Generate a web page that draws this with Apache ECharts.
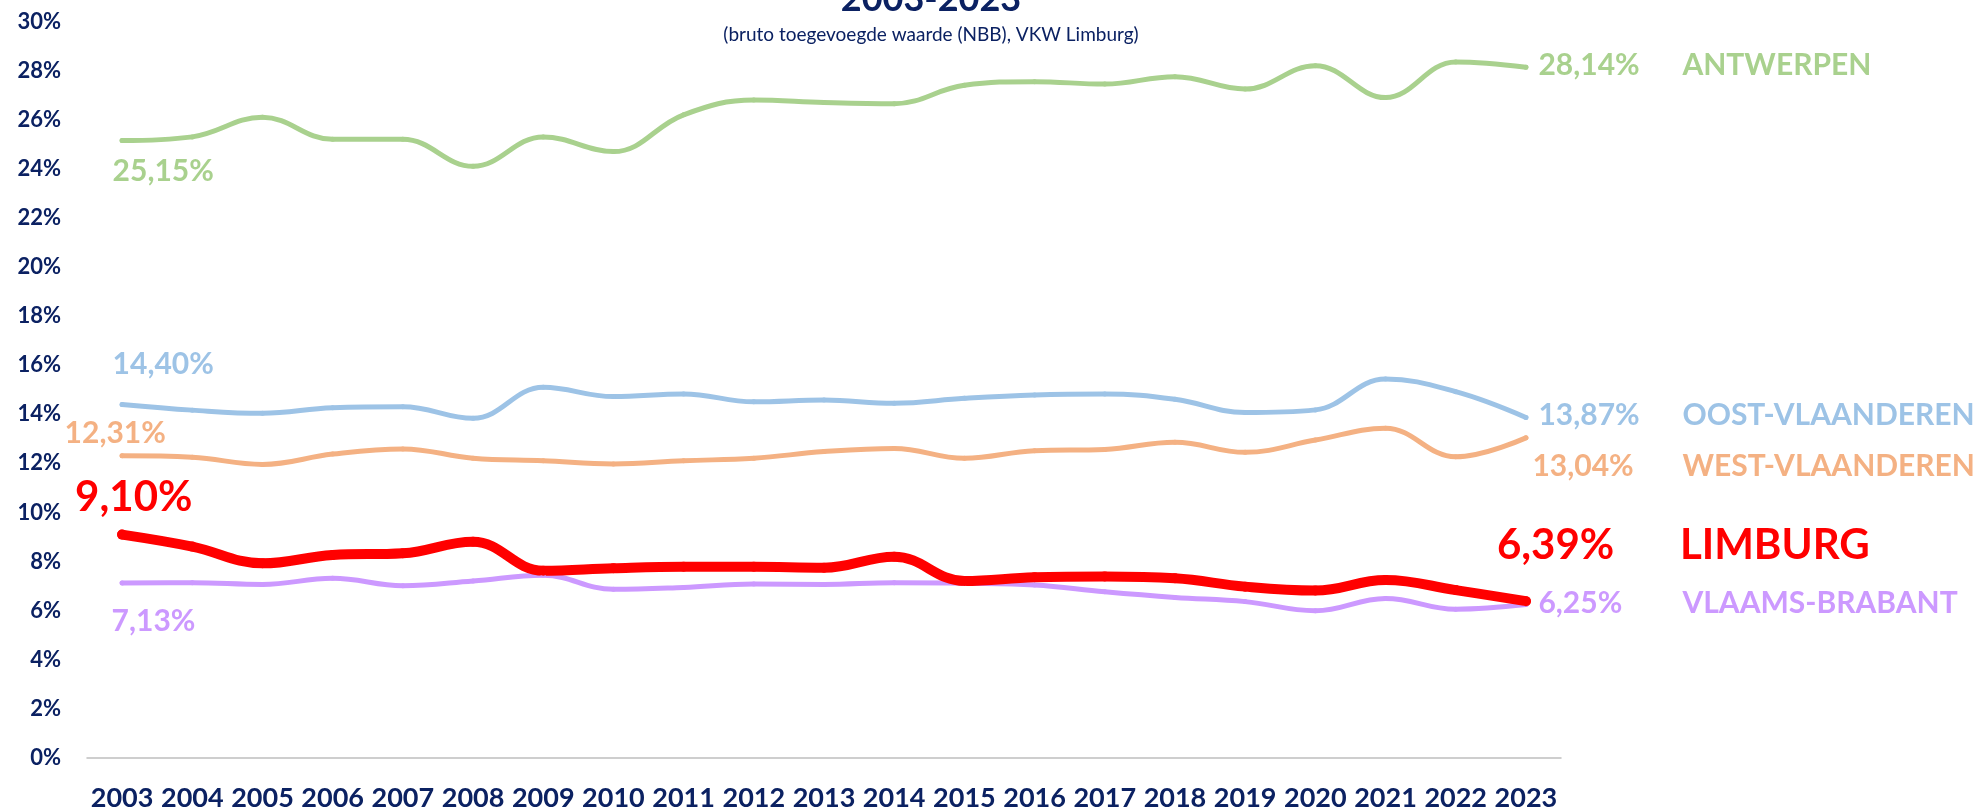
<!DOCTYPE html>
<html>
<head>
<meta charset="utf-8">
<script src="https://cdn.jsdelivr.net/npm/echarts@6/dist/echarts.min.js"></script>
<style>
  html, body { margin: 0; padding: 0; background: #fff; }
  #main { width: 1982px; height: 812px; }
</style>
</head>
<body>
<div id="main"></div>
<script>
var years = ['2003','2004','2005','2006','2007','2008','2009','2010','2011','2012','2013',
             '2014','2015','2016','2017','2018','2019','2020','2021','2022','2023'];
var yTicks = [0, 30, 2];

var antwerpen     = [25.15, 25.30, 26.10, 25.20, 25.20, 24.10, 25.30, 24.70, 26.20, 26.80, 26.70,
                     26.65, 27.40, 27.55, 27.45, 27.75, 27.25, 28.20, 26.90, 28.35, 28.14];
var oostVl        = [14.40, 14.17, 14.04, 14.27, 14.31, 13.84, 15.10, 14.72, 14.83, 14.51, 14.58,
                     14.45, 14.65, 14.79, 14.83, 14.61, 14.07, 14.18, 15.44, 14.92, 13.87];
var westVl        = [12.31, 12.25, 11.96, 12.38, 12.59, 12.21, 12.11, 11.98, 12.11, 12.21, 12.48,
                     12.61, 12.21, 12.52, 12.57, 12.86, 12.45, 12.95, 13.43, 12.27, 13.04];
var vlaamsBrabant = [7.13, 7.14, 7.07, 7.32, 7.02, 7.21, 7.44, 6.87, 6.95, 7.09, 7.07,
                     7.14, 7.12, 7.05, 6.77, 6.54, 6.37, 6.00, 6.50, 6.06, 6.25];
var limburg       = [9.10, 8.61, 7.93, 8.27, 8.34, 8.81, 7.63, 7.73, 7.79, 7.79, 7.75,
                     8.20, 7.21, 7.36, 7.39, 7.32, 6.98, 6.82, 7.25, 6.84, 6.39];

var navy = '#0B2162';
var font = 'Lato';

function pct(v) {
    return v.toFixed(2).replace('.', ',') + '%';
}

// s: name, data, colour, line width, label size, start offset, end offset, value box width
function makeSeries(s) {
    var last = s.data.length - 1;
    var data = s.data.map(function (v, i) {
        if (i === 0) {
            return {
                value: v,
                label: {
                    show: true, position: s.start, align: 'left', verticalAlign: 'middle',
                    formatter: pct(v), color: s.color, fontSize: s.size,
                    fontWeight: 'bold', fontFamily: font
                }
            };
        }
        if (i === last) {
            return {
                value: v,
                label: {
                    show: true, position: s.end, align: 'left', verticalAlign: 'middle',
                    formatter: '{v|' + pct(v) + '}{n|' + s.name + '}',
                    rich: {
                        v: { width: s.vw, color: s.color, fontSize: s.size, fontWeight: 'bold', fontFamily: font },
                        n: { color: s.color, fontSize: s.size, fontWeight: 'bold', fontFamily: font }
                    }
                }
            };
        }
        return v;
    });
    return {
        name: s.name,
        type: 'line',
        smooth: 0.4,
        data: data,
        symbol: 'circle',
        symbolSize: s.width,
        showSymbol: true,
        showAllSymbol: true,
        itemStyle: { color: s.color },
        lineStyle: { color: s.color, width: s.width, cap: 'round', join: 'round' },
        emphasis: { disabled: true }
    };
}

var chart = echarts.init(document.getElementById('main'));
var option = {
    animation: false,
    backgroundColor: '#fff',
    title: [
        {
            text: '2003-2023', left: 926, top: -24, textAlign: 'center',
            textStyle: { color: navy, fontSize: 36, fontWeight: 'bold', fontFamily: font }
        },
        {
            text: '(bruto toegevoegde waarde (NBB), VKW Limburg)', left: 926, top: 20, textAlign: 'center',
            textStyle: { color: navy, fontSize: 19, fontWeight: 'normal', fontFamily: font }
        }
    ],
    grid: { left: 87, right: 421, top: 21.5, bottom: 54 },
    xAxis: {
        type: 'category',
        data: years,
        boundaryGap: true,
        axisLine: { lineStyle: { color: '#BFBFBF', width: 1.5 } },
        axisTick: { show: false },
        axisLabel: { color: navy, fontSize: 27, fontWeight: 'bold', fontFamily: font, margin: 27, interval: 0 }
    },
    yAxis: {
        type: 'value',
        min: yTicks[0], max: yTicks[1], interval: yTicks[2],
        axisLine: { show: false },
        axisTick: { show: false },
        splitLine: { show: false },
        axisLabel: { color: navy, fontSize: 22, fontWeight: 'bold', fontFamily: font, margin: 26, formatter: '{value}%' }
    },
    series: [
        makeSeries({ name: 'ANTWERPEN', data: antwerpen, color: '#A9D18E', width: 5, size: 30,
                     start: [-7, 33], end: [15, 1], vw: 144 }),
        makeSeries({ name: 'OOST-VLAANDEREN', data: oostVl, color: '#9DC3E6', width: 5, size: 30,
                     start: [-7, -38], end: [15, 0], vw: 144 }),
        makeSeries({ name: 'WEST-VLAANDEREN', data: westVl, color: '#F4B183', width: 5, size: 30,
                     start: [-55, -20], end: [9, 31], vw: 150 }),
        makeSeries({ name: 'VLAAMS-BRABANT', data: vlaamsBrabant, color: '#CC99FF', width: 5, size: 30,
                     start: [-8, 41], end: [15, 1], vw: 144 }),
        makeSeries({ name: 'LIMBURG', data: limburg, color: '#FF0000', width: 10, size: 42,
                     start: [-42, -32], end: [-24, -51], vw: 183 })
    ]
};
chart.setOption(option);
</script>
</body>
</html>
